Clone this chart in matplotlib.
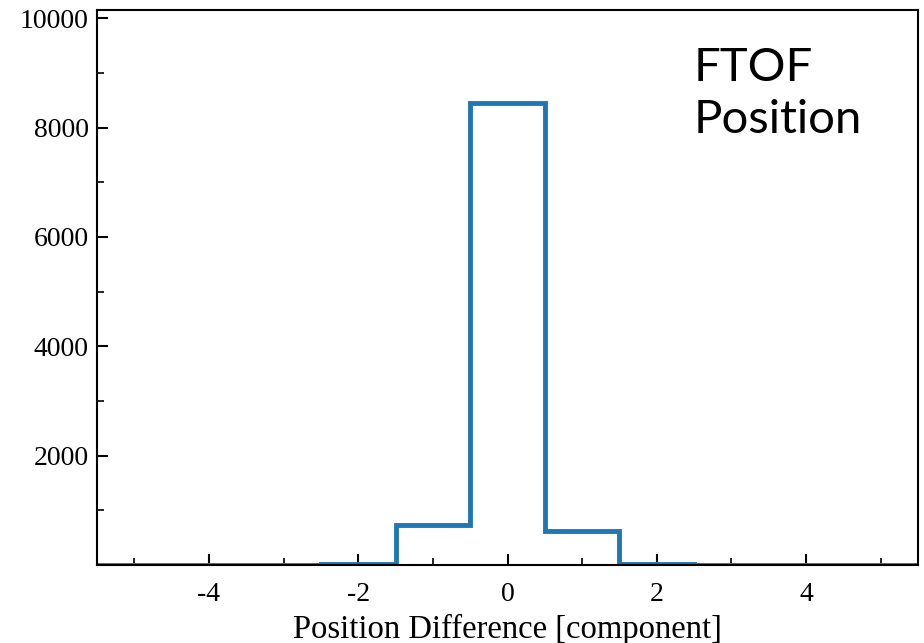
import numpy as np
import matplotlib
matplotlib.use("Agg")
import matplotlib.pyplot as plt
from matplotlib.ticker import MultipleLocator

# histogram of position difference (bin centres at integer components)
bin_centers = [-5, -4, -3, -2, -1, 0, 1, 2, 3, 4, 5]
counts = [3, 3, 5, 20, 740, 8450, 620, 20, 5, 3, 3]

edges = np.arange(-5.5, 6.0, 1.0)

plt.rcParams['font.family'] = ['Liberation Serif', 'DejaVu Serif']
plt.rcParams['axes.unicode_minus'] = False

fig = plt.figure(figsize=(9.24, 6.43), dpi=100)
ax = fig.add_axes([0.105, 0.1213, 0.8885, 0.8631])

ax.hist(bin_centers, bins=edges, weights=counts, histtype='step',
        color='#1f77b4', linewidth=3.5)

ax.set_xlim(-5.5, 5.5)
ax.set_ylim(0, 10150)
ax.xaxis.set_major_locator(MultipleLocator(2))
ax.xaxis.set_minor_locator(MultipleLocator(1))
ax.yaxis.set_minor_locator(MultipleLocator(1000))
ax.set_yticks([2000, 4000, 6000, 8000, 10000])
ax.tick_params(which='both', direction='in', top=False, right=False, labelsize=20)
ax.tick_params(which='major', length=8, width=1.5)
ax.tick_params(which='minor', length=5, width=1.2)
ax.tick_params(axis='x', which='major', pad=12)
ax.tick_params(axis='y', which='major', pad=6)
for sp in ax.spines.values():
    sp.set_linewidth(1.5)

ax.set_xlabel('Position Difference [component]', fontsize=23.5, labelpad=5)
ax.text(0.727, 0.933, 'FTOF\nPosition', transform=ax.transAxes, fontsize=34,
        family=['Lato', 'DejaVu Sans'], va='top', ha='left', linespacing=1.3)

fig.savefig("out.png", dpi=100)
